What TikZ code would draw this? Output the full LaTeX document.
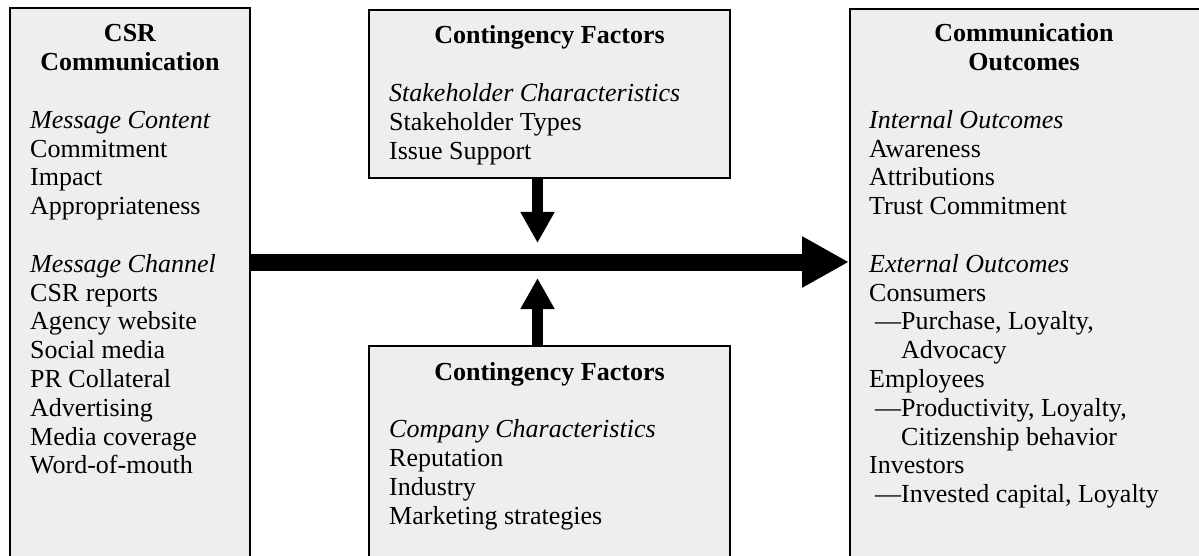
\documentclass[tikz,border=0pt]{standalone}
\usepackage{fontspec}
\setmainfont{Liberation Serif}
\usepackage{tikz}
\usetikzlibrary{positioning}
\usetikzlibrary{calc,arrows.meta}
\definecolor{panelgray}{RGB}{238,238,238}
\newcommand{\boxfont}{\fontsize{26}{28.8}\selectfont}
\newcommand{\headlines}[1]{\begin{tabular}[t]{@{}c@{}}#1\end{tabular}}
\newcommand{\itemlines}[1]{\begin{tabular}[t]{@{}l@{}}#1\end{tabular}}
\tikzset{
  csr_box/.style = {draw=black, fill=panelgray, line width=2pt,
    anchor=north west, inner sep=0pt},% grey panel, runs off the page
  csr_title/.style = {anchor=base, inner sep=0pt,
    font=\boxfont\bfseries},% bold heading of a panel
  csr_text/.style = {anchor=base west, inner sep=0pt,
    font=\boxfont},% list of items in a panel
  big_arrow/.style = {line width=17pt,
    -{Triangle[length=47pt,width=48pt]}},% main flow
  small_arrow/.style = {line width=11pt,
    -{Triangle[length=31pt,width=32pt]}}% contingency effect
}

\begin{document}
\begin{tikzpicture}[x=1pt,y=-1pt]
\path[use as bounding box] (0,0) rectangle (1199,556);
\clip (0,0) rectangle (1199,556);

% panels
\node [csr_box, minimum width=240pt, minimum height=600pt] (csr) at (9,7) {};
\node [csr_box, minimum width=361pt, minimum height=168pt] (stake) at (368,9) {};
\node [csr_box, minimum width=361pt, minimum height=300pt] (comp) at (368,345) {};
\node [csr_box, minimum width=420pt, minimum height=600pt] (out) at (849,8) {};

% headings
\node [csr_title] (csrhead) at ([yshift=-35pt]csr.north)
  {\headlines{CSR\\ Communication}};
\node [csr_title] (stakehead) at ([yshift=-35pt]stake.north) {Contingency Factors};
\node [csr_title] (comphead) at ([yshift=-35pt]comp.north) {Contingency Factors};
\node [csr_title] (outhead) at (1024,42) {\headlines{Communication\\ Outcomes}};

% items
\node [csr_text] (csritems) at ([shift={(21pt,-121.4pt)}]csr.north west) {\itemlines{%
  \textit{Message Content}\\ Commitment\\ Impact\\ Appropriateness\\[28.8pt]
  \textit{Message Channel}\\ CSR reports\\ Agency website\\ Social media\\
  PR Collateral\\ Advertising\\ Media coverage\\ Word-of-mouth}};
\node [csr_text] (stakeitems) at ([shift={(21pt,-92.6pt)}]stake.north west) {\itemlines{%
  \textit{Stakeholder Characteristics}\\ Stakeholder Types\\ Issue Support}};
\node [csr_text] (compitems) at ([shift={(21pt,-92.6pt)}]comp.north west) {\itemlines{%
  \textit{Company Characteristics}\\ Reputation\\ Industry\\ Marketing strategies}};
\node [csr_text] (outitems) at ([shift={(20pt,-120.4pt)}]out.north west) {\itemlines{%
  \textit{Internal Outcomes}\\ Awareness\\ Attributions\\ Trust Commitment\\[28.8pt]
  \textit{External Outcomes}\\ Consumers\\
  \hspace*{6pt}---Purchase, Loyalty,\\ \hspace*{6pt}\phantom{---}Advocacy\\
  Employees\\
  \hspace*{6pt}---Productivity, Loyalty,\\ \hspace*{6pt}\phantom{---}Citizenship behavior\\
  Investors\\
  \hspace*{6pt}---Invested capital, Loyalty}};

% arrows
\coordinate (hub) at (537.5,262);
\draw [big_arrow] (csr.east |- hub) -- (out.west |- hub);
\draw [small_arrow] (stake.south -| hub) -- ([yshift=19pt]hub);
\draw [small_arrow] (comp.north -| hub) -- ([yshift=-16pt]hub);
\end{tikzpicture}
\end{document}
